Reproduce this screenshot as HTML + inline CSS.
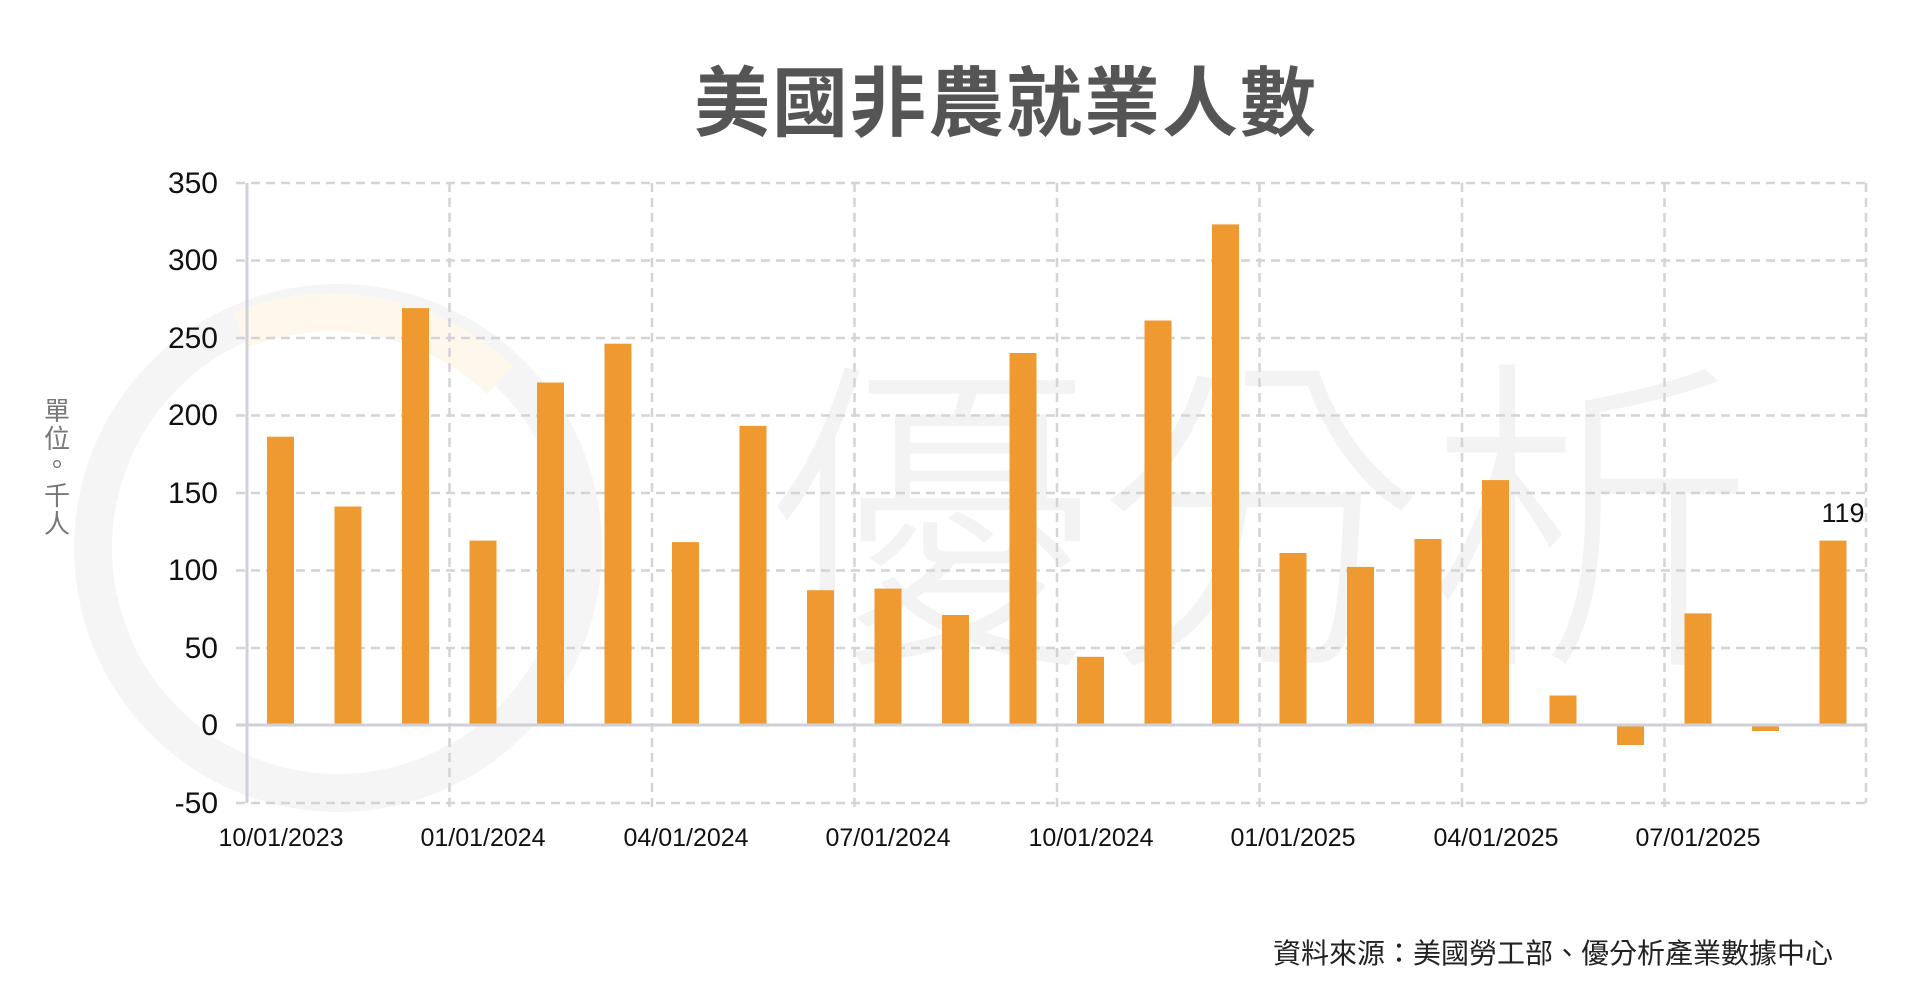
<!DOCTYPE html>
<html><head><meta charset="utf-8"><style>
html,body{margin:0;padding:0;background:#fff;}
svg{display:block;}
</style></head><body>
<svg width="1920" height="1003" viewBox="0 0 1920 1003" xmlns="http://www.w3.org/2000/svg">
<rect width="1920" height="1003" fill="#fff"/>
<!-- watermark -->
<circle cx="338" cy="548" r="245" fill="none" stroke="#f5f5f5" stroke-width="38"/>
<path d="M240 330 A245 245 0 0 1 500 380" fill="none" stroke="#fef7ec" stroke-width="38"/>
<text x="1260" y="640" text-anchor="middle" font-family="'Noto Sans CJK TC',sans-serif" font-size="330" fill="#f3f3f3" font-weight="300">優分析</text>
<!-- title -->
<text x="1006" y="130" text-anchor="middle" font-family="'Liberation Sans','Noto Sans CJK TC',sans-serif" font-size="76" font-weight="bold" fill="#555" letter-spacing="2">美國非農就業人數</text>
<!-- y unit label -->
<g font-family="'Noto Sans CJK TC',sans-serif" font-size="26" fill="#777" text-anchor="middle">
<text x="57" y="420">單</text><text x="57" y="448">位</text><text x="57" y="474">。</text><text x="57" y="505">千</text><text x="57" y="533">人</text>
</g>
<!-- grid -->
<g stroke="#d4d4d8" stroke-width="2.5" stroke-dasharray="9,6" fill="none">
<line x1="236" y1="183" x2="1865" y2="183"/>
<line x1="236" y1="260.5" x2="1865" y2="260.5"/>
<line x1="236" y1="338" x2="1865" y2="338"/>
<line x1="236" y1="415.5" x2="1865" y2="415.5"/>
<line x1="236" y1="493" x2="1865" y2="493"/>
<line x1="236" y1="570.5" x2="1865" y2="570.5"/>
<line x1="236" y1="648" x2="1865" y2="648"/>
<line x1="236" y1="803" x2="1865" y2="803"/>
<line x1="449.5" y1="183" x2="449.5" y2="810"/>
<line x1="652" y1="183" x2="652" y2="810"/>
<line x1="854.5" y1="183" x2="854.5" y2="810"/>
<line x1="1057" y1="183" x2="1057" y2="810"/>
<line x1="1259.5" y1="183" x2="1259.5" y2="810"/>
<line x1="1462" y1="183" x2="1462" y2="810"/>
<line x1="1664.5" y1="183" x2="1664.5" y2="810"/>
<line x1="1866" y1="183" x2="1866" y2="803"/>
</g>
<!-- bars -->
<g fill="#ef9a30">
<rect x="267" y="436.7" width="27" height="288.3"/>
<rect x="334.5" y="506.5" width="27" height="218.5"/>
<rect x="402" y="308.1" width="27" height="416.9"/>
<rect x="469.5" y="540.6" width="27" height="184.4"/>
<rect x="537" y="382.5" width="27" height="342.5"/>
<rect x="604.5" y="343.7" width="27" height="381.3"/>
<rect x="672" y="542.1" width="27" height="182.9"/>
<rect x="739.5" y="425.9" width="27" height="299.1"/>
<rect x="807" y="590.2" width="27" height="134.8"/>
<rect x="874.5" y="588.6" width="27" height="136.4"/>
<rect x="942" y="615" width="27" height="110"/>
<rect x="1009.5" y="353" width="27" height="372"/>
<rect x="1077" y="656.8" width="27" height="68.2"/>
<rect x="1144.5" y="320.5" width="27" height="404.5"/>
<rect x="1212" y="224.4" width="27" height="500.6"/>
<rect x="1279.5" y="553" width="27" height="172"/>
<rect x="1347" y="566.9" width="27" height="158.1"/>
<rect x="1414.5" y="539" width="27" height="186"/>
<rect x="1482" y="480.1" width="27" height="244.9"/>
<rect x="1549.5" y="695.5" width="27" height="29.5"/>
<rect x="1617" y="725" width="27" height="20"/>
<rect x="1684.5" y="613.4" width="27" height="111.6"/>
<rect x="1752" y="725" width="27" height="6"/>
<rect x="1819.5" y="540.6" width="27" height="184.4"/>
</g>
<!-- axes -->
<line x1="247" y1="183" x2="247" y2="803" stroke="#d0d0d8" stroke-width="3"/>
<line x1="236" y1="725" x2="1866" y2="725" stroke="#d0d0d8" stroke-width="3"/>
<!-- y ticks -->
<g font-family="'Liberation Sans',sans-serif" font-size="30" fill="#111" text-anchor="end">
<text x="218" y="193">350</text><text x="218" y="270">300</text><text x="218" y="348">250</text>
<text x="218" y="425">200</text><text x="218" y="503">150</text><text x="218" y="580">100</text>
<text x="218" y="658">50</text><text x="218" y="735">0</text><text x="218" y="813">-50</text>
</g>
<!-- x ticks -->
<g font-family="'Liberation Sans',sans-serif" font-size="25" fill="#111" text-anchor="middle">
<text x="281" y="846">10/01/2023</text><text x="483" y="846">01/01/2024</text><text x="686" y="846">04/01/2024</text>
<text x="888" y="846">07/01/2024</text><text x="1091" y="846">10/01/2024</text><text x="1293" y="846">01/01/2025</text>
<text x="1496" y="846">04/01/2025</text><text x="1698" y="846">07/01/2025</text>
</g>
<text x="1843" y="522" text-anchor="middle" font-family="'Liberation Sans',sans-serif" font-size="27" fill="#111">119</text>
<!-- source -->
<text x="1833" y="963" text-anchor="end" font-family="'Liberation Sans','Noto Sans CJK TC',sans-serif" font-size="28" fill="#222">資料來源：美國勞工部、優分析產業數據中心</text>
</svg>
</body></html>
